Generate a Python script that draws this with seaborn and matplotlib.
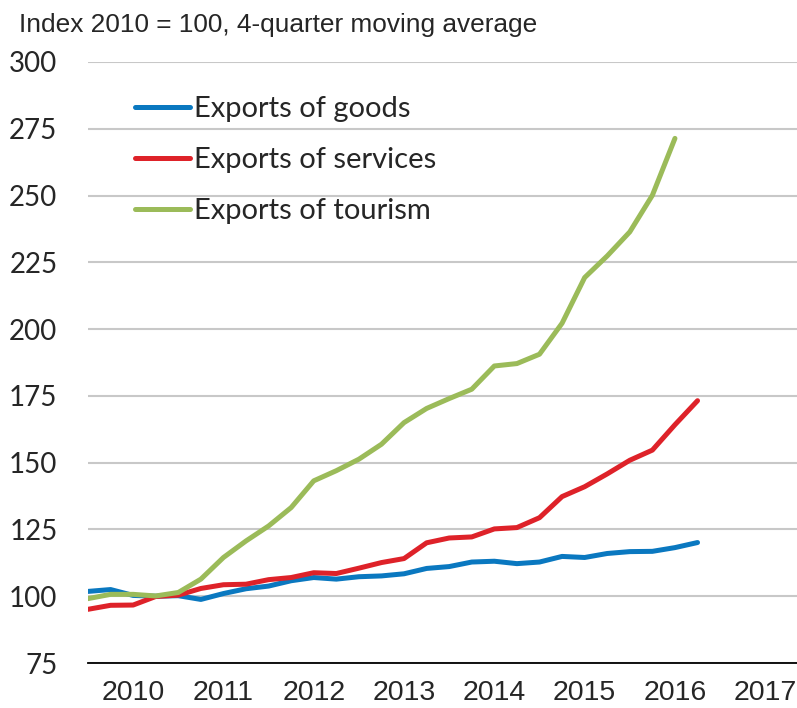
import numpy as np
import pandas as pd
import matplotlib
matplotlib.use("Agg")
import matplotlib.pyplot as plt
import seaborn as sns
from matplotlib.ticker import FixedLocator, NullFormatter, FixedFormatter

# ---- data (index 2010 = 100, 4-quarter moving average), quarterly from 2010Q1 ----
goods = [101.8, 102.5, 100.3, 100.0, 100.2, 98.8, 101.0, 102.8, 103.8, 105.8, 107.0, 106.4,
         107.3, 107.6, 108.4, 110.4, 111.1, 112.8, 113.1, 112.2, 112.8, 114.9, 114.5, 116.0,
         116.7, 116.8, 118.2, 120.1]
services = [95.1, 96.6, 96.7, 99.9, 100.4, 102.9, 104.3, 104.5, 106.2, 107.0, 108.8, 108.5,
            110.5, 112.6, 114.1, 120.0, 121.8, 122.2, 125.2, 125.7, 129.4, 137.3, 141.0, 145.8,
            150.9, 154.7, 164.2, 173.2]
tourism = [99.1, 100.7, 100.7, 100.1, 101.4, 106.4, 114.5, 120.7, 126.3, 133.2, 143.2, 147.0,
           151.3, 156.9, 165.0, 170.3, 174.0, 177.5, 186.2, 187.1, 190.6, 202.2, 219.3, 227.4,
           236.4, 250.1, 271.4]
series_names = ["Exports of goods", "Exports of services", "Exports of tourism"]
colors = ["#0A78C0", "#DE2229", "#9BBB59"]
years = [2010, 2011, 2012, 2013, 2014, 2015, 2016, 2017]
yticks = [75, 100, 125, 150, 175, 200, 225, 250, 275, 300]
title = "Index 2010 = 100, 4-quarter moving average"

rows = []
for name, vals in zip(series_names, [goods, services, tourism]):
    for i, v in enumerate(vals):
        rows.append({"time": 2010 + i / 4.0, "value": v, "series": name})
df = pd.DataFrame(rows)

sns.set_style("white")
plt.rcParams["font.family"] = ["Lato", "DejaVu Sans"]
narrow = ["Liberation Sans Narrow", "Liberation Sans", "DejaVu Sans"]

fig = plt.figure(figsize=(7.97, 7.08), dpi=100)
ax = fig.add_axes([88 / 797, 45 / 708, 1 - 88 / 797, (663 - 62) / 708])

sns.lineplot(data=df, x="time", y="value", hue="series", hue_order=series_names,
             palette=colors, linewidth=3.6, ax=ax, sort=False, estimator=None)

ax.set_xlim(2010, 2010 + (797 - 88) / 90.3)
ax.set_ylim(75, 300)
ax.set_yticks(yticks)
ax.yaxis.grid(True, color="#C8C8C8", linewidth=1.5)
ax.set_axisbelow(True)
for s in ["top", "right", "left"]:
    ax.spines[s].set_visible(False)
ax.spines["bottom"].set_color("black")
ax.spines["bottom"].set_linewidth(1.3)

ax.xaxis.set_major_locator(FixedLocator(years))
ax.xaxis.set_major_formatter(NullFormatter())
ax.xaxis.set_minor_locator(FixedLocator([y + 0.5 for y in years]))
ax.xaxis.set_minor_formatter(FixedFormatter([str(y) for y in years]))
ax.tick_params(axis="x", which="major", direction="in", length=6.5, width=1.3, color="black")
ax.tick_params(axis="x", which="minor", length=0, pad=12, labelsize=20.5)
for lab in ax.get_xticklabels(minor=True):
    lab.set_family(narrow)
ax.tick_params(axis="y", length=0, pad=22, labelsize=20)
ax.set_xlabel("")
ax.set_ylabel("")

leg = ax.legend(loc="upper left", bbox_to_anchor=(0.066, 0.943), frameon=False,
                fontsize=21, handlelength=1.88, handletextpad=0.14, labelspacing=0.86,
                borderaxespad=0, borderpad=0)
for h in leg.get_lines():
    h.set_linewidth(3.6)
    h.set_solid_capstyle("round")

fig.text(19 / 797, 1 - 32 / 708, title, ha="left", va="baseline", fontsize=18.9, family=narrow)

fig.savefig("out.png", dpi=100)
